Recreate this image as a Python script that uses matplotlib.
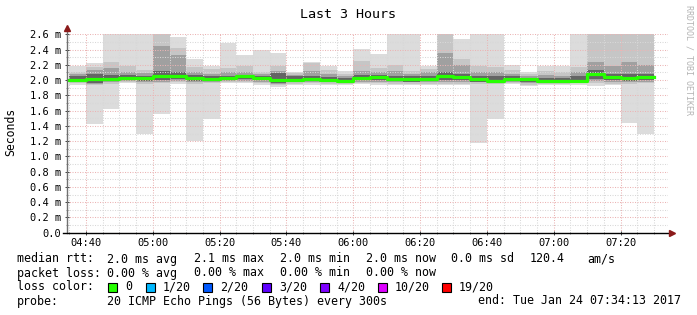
import matplotlib
matplotlib.use("Agg")
import matplotlib.pyplot as plt
import numpy as np
import pandas as pd
from matplotlib.patches import Rectangle
from matplotlib.ticker import FuncFormatter, MultipleLocator

W, H = 697, 315

# smokeping target, rrd step 300 s -> one smoke column per step (stamped at interval end)
graph_start = pd.Timestamp("2017-01-24 04:34:13")
graph_end = pd.Timestamp("2017-01-24 07:34:13")
bin_end = pd.date_range("2017-01-24 04:40", "2017-01-24 07:30", freq="5min")

# median rtt per step (ms)
median_rtt = [2.00, 2.02, 2.02, 2.03, 2.03, 2.05, 2.05, 2.03, 2.02, 2.03, 2.05, 2.03,
              2.00, 2.00, 2.01, 2.00, 1.99, 2.03, 2.04, 2.02, 2.01, 2.02, 2.05, 2.04,
              2.01, 1.99, 2.02, 2.01, 1.99, 1.99, 1.99, 2.08, 2.04, 2.03, 2.04]

# smoke: fastest / slowest ping of the 20 (ms)
ping_min = [1.93, 1.42, 1.62, 1.96, 1.29, 1.55, 1.95, 1.20, 1.49, 1.96, 1.96, 1.94,
            1.91, 1.94, 1.94, 1.93, 1.93, 1.95, 1.94, 1.93, 1.94, 1.93, 1.93, 1.93,
            1.18, 1.49, 1.95, 1.92, 1.93, 1.93, 1.94, 1.92, 1.93, 1.44, 1.29]
ping_max = [2.18, 2.23, 2.70, 2.70, 2.70, 2.70, 2.56, 2.27, 2.18, 2.49, 2.33, 2.40,
            2.35, 2.11, 2.24, 2.18, 2.12, 2.41, 2.34, 2.70, 2.70, 2.19, 2.70, 2.54,
            2.70, 2.70, 2.20, 2.11, 2.19, 2.18, 2.70, 2.70, 2.70, 2.70, 2.70]

# inner smoke layers (lower / upper ping of each layer, ms)
layer1_lo = [1.96, 1.93, 1.95, 1.97, 1.95, 1.96, 1.97, 1.95, 1.96, 1.97, 1.97, 1.96,
             1.93, 1.95, 1.96, 1.95, 1.95, 1.96, 1.96, 1.95, 1.95, 1.95, 1.95, 1.95,
             1.95, 1.95, 1.96, 1.94, 1.95, 1.95, 1.96, 1.96, 1.95, 1.95, 1.96]
layer1_hi = [2.11, 2.17, 2.24, 2.19, 2.13, 2.70, 2.42, 2.17, 2.14, 2.16, 2.18, 2.11,
             2.18, 2.09, 2.22, 2.13, 2.08, 2.25, 2.16, 2.20, 2.12, 2.15, 2.70, 2.27,
             2.18, 2.17, 2.13, 2.08, 2.12, 2.11, 2.17, 2.70, 2.70, 2.70, 2.70]
layer2_lo = [1.97, 1.95, 1.97, 1.99, 1.97, 1.98, 1.99, 1.97, 1.98, 1.99, 1.99, 1.98,
             1.95, 1.97, 1.98, 1.97, 1.97, 1.98, 1.98, 1.97, 1.97, 1.97, 1.98, 1.98,
             1.97, 1.97, 1.98, 1.96, 1.97, 1.97, 1.97, 1.99, 1.97, 1.97, 1.98]
layer2_hi = [2.08, 2.13, 2.16, 2.11, 2.09, 2.45, 2.33, 2.11, 2.08, 2.10, 2.10, 2.08,
             2.12, 2.07, 2.12, 2.08, 2.05, 2.12, 2.10, 2.12, 2.08, 2.10, 2.35, 2.20,
             2.10, 2.10, 2.08, 2.05, 2.07, 2.06, 2.10, 2.24, 2.18, 2.24, 2.20]
layer3_lo = [1.98, 1.96, 1.99, 2.00, 1.99, 2.00, 2.01, 1.99, 1.99, 2.00, 2.01, 2.00,
             1.96, 1.98, 1.99, 1.98, 1.97, 2.00, 2.00, 1.99, 1.98, 1.99, 2.00, 2.00,
             1.98, 1.97, 1.99, 1.98, 1.97, 1.97, 1.97, 2.02, 2.00, 1.99, 2.00]
layer3_hi = [2.05, 2.08, 2.07, 2.07, 2.06, 2.12, 2.10, 2.07, 2.05, 2.06, 2.07, 2.06,
             2.09, 2.05, 2.06, 2.04, 2.03, 2.07, 2.07, 2.06, 2.05, 2.06, 2.10, 2.08,
             2.05, 2.05, 2.05, 2.03, 2.03, 2.03, 2.05, 2.13, 2.08, 2.08, 2.08]

loss_labels = ["0", "1/20", "2/20", "3/20", "4/20", "10/20", "19/20"]
loss_colors = ["#26ff00", "#00b8ff", "#0059ff", "#5e00ff", "#7e00ff", "#dd00ff", "#ff0000"]

stats_rtt = ["2.0 ms avg", "2.1 ms max", "2.0 ms min", "2.0 ms now", "0.0 ms sd", "120.4", "am/s"]
stats_loss = ["0.00 % avg", "0.00 % max", "0.00 % min", "0.00 % now"]
probe_text = "20 ICMP Echo Pings (56 Bytes) every 300s"
end_text = "end: Tue Jan 24 07:34:13 2017"


def to_min(ts):
    return (ts - ts.normalize()).total_seconds() / 60.0


def main() -> None:
    plt.rcParams.update({"font.family": "DejaVu Sans Mono"})
    mono = "DejaVu Sans Mono"

    fig = plt.figure(figsize=(W / 100, H / 100), dpi=100)
    fig.patch.set_facecolor("white")
    x0, x1, y_top, y_bot = 66.7, 668.0, 34.3, 232.7
    ax = fig.add_axes([x0 / W, 1 - y_bot / H, (x1 - x0) / W, (y_bot - y_top) / H])

    t0, t1 = to_min(graph_start), to_min(graph_end)
    right = np.array([to_min(t) for t in bin_end])
    left = np.maximum(right - 5.0, t0)
    width = right - left

    layers = [
        (ping_min, ping_max, "#dcdcdc"),
        (layer1_lo, layer1_hi, "#c6c6c6"),
        (layer2_lo, layer2_hi, "#a0a0a0"),
        (layer3_lo, layer3_hi, "#646464"),
    ]
    for z, (lo, hi, col) in enumerate(layers):
        lo, hi = np.array(lo), np.array(hi)
        ax.bar(left, hi - lo, bottom=lo, width=width, align="edge",
               color=col, linewidth=0, zorder=1 + z * 0.1)

    edges = np.r_[left, right[-1]]
    med = np.array(median_rtt)
    ax.step(edges, np.r_[med, med[-1]], where="post", color=loss_colors[0],
            linewidth=2.3, zorder=4)

    ax.set_xlim(t0, t1)
    ax.set_ylim(0, 2.6)
    ax.xaxis.set_major_locator(MultipleLocator(20))
    ax.xaxis.set_minor_locator(MultipleLocator(5))
    ax.yaxis.set_major_locator(MultipleLocator(0.2))
    ax.yaxis.set_minor_locator(MultipleLocator(0.1))
    ax.xaxis.set_major_formatter(FuncFormatter(lambda m, _: f"{int(m // 60):02d}:{int(round(m % 60)):02d}"))
    ax.yaxis.set_major_formatter(FuncFormatter(lambda v, _: "0.0" if abs(v) < 1e-9 else f"{v:.1f} m"))

    ax.set_axisbelow(False)
    ax.grid(which="major", color="#ebb4b4", linestyle=(0, (1, 1.4)), linewidth=0.75)
    ax.grid(which="minor", color="#d8d8d8", linestyle=(0, (1, 1.4)), linewidth=0.75)

    for s in ax.spines.values():
        s.set_visible(False)
    ax.tick_params(which="major", direction="inout", length=2.5, width=0.7,
                   color="#404040", labelsize=7.5, pad=2.6)
    ax.tick_params(which="minor", direction="inout", length=1.5, width=0.6, color="#808080")

    # axes with arrow heads, rrdtool style
    ax.plot([0, 0], [0, 1 + 4 / 198.4], transform=ax.transAxes, color="#707070",
            linewidth=1.0, clip_on=False, zorder=5)
    ax.plot([-4 / 601.3, 1 + 3 / 601.3], [0, 0], transform=ax.transAxes, color="black",
            linewidth=1.0, clip_on=False, zorder=5)
    ax.plot([0], [1 + 6 / 198.4], marker="^", markersize=4, color="#8b1a1a",
            transform=ax.transAxes, clip_on=False, zorder=6)
    ax.plot([1 + 4 / 601.3], [0], marker=">", markersize=4, color="#8b1a1a",
            transform=ax.transAxes, clip_on=False, zorder=6)

    def txt(x, y, s, **kw):
        kw.setdefault("fontsize", 8.4)
        kw.setdefault("family", mono)
        fig.text(x / W, 1 - y / H, s, va="center", ha=kw.pop("ha", "left"), **kw)

    txt(348.5, 14, "Last 3 Hours", ha="center", fontsize=9.6)
    txt(11, 132, "Seconds", ha="center", rotation=90, fontsize=8.3)
    txt(688.5, 60, "RRDTOOL / TOBI OETIKER", ha="center", rotation=270,
        fontsize=6.0, color="#b4b4b4")

    # legend block
    txt(17, 259, "median rtt:")
    for x, s in zip([107, 194, 280, 366, 451, 530, 587], stats_rtt):
        txt(x, 259, s)
    txt(17, 273, "packet loss:")
    for x, s in zip([107, 194, 280, 366], stats_loss):
        txt(x, 273, s)
    txt(17, 287, "loss color:")
    for bx, lab, col in zip([108, 146, 203, 262, 320, 378, 442], loss_labels, loss_colors):
        fig.add_artist(Rectangle((bx / W, 1 - 291.5 / H), 8.5 / W, 9 / H,
                                 transform=fig.transFigure, facecolor=col,
                                 edgecolor="black", linewidth=0.8))
        txt(bx + 17, 287, lab)
    txt(17, 301, "probe:")
    txt(107, 301, probe_text)
    txt(478, 301, end_text)

    fig.savefig("out.png", dpi=100, facecolor="white")
    plt.close(fig)


if __name__ == "__main__":
    main()
